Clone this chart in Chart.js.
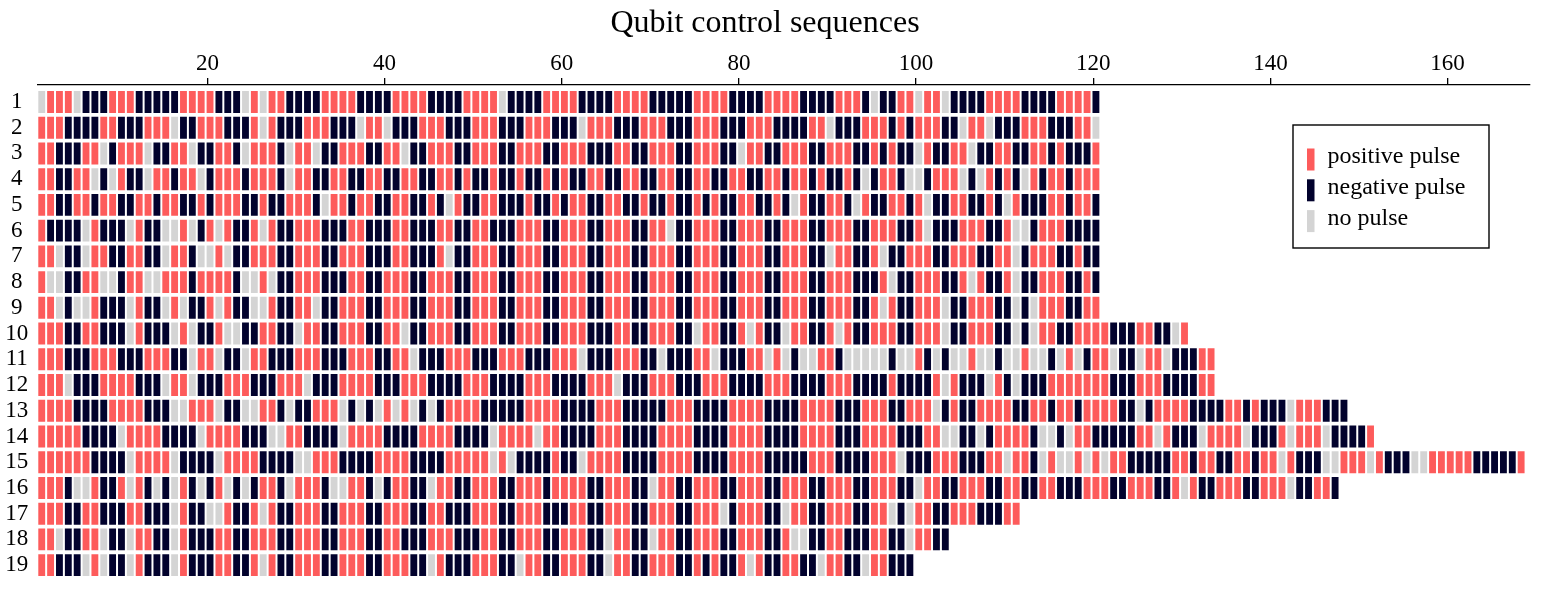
<!DOCTYPE html>
<html>
<head>
<meta charset="utf-8">
<title>Qubit control sequences</title>
<script src="https://cdn.jsdelivr.net/npm/chart.js@4.4.1/dist/chart.umd.min.js"></script>
<style>
  html, body { margin: 0; padding: 0; background: #fff; }
  #wrap { width: 1559px; height: 593px; }
</style>
</head>
<body>
<div id="wrap"><canvas id="pulseChart" width="1559" height="593"></canvas></div>
<script>
// Sequence number shown at the left of each row.
const rowLabels = ['1','2','3','4','5','6','7','8','9','10','11','12','13','14','15','16','17','18','19'];
// Tick labels of the top axis.
const xTickValues = [20, 40, 60, 80, 100, 120, 140, 160];
// Legend entries, in the same order as pulseSigns.
const pulseNames = ['positive pulse', 'negative pulse', 'no pulse'];
const pulseSigns = [1, -1, 0];
const pulseColors = ['#fd5b5b', '#02022d', '#d4d4d4'];

// One string per sequence, one character per time step: '+' positive, '-' negative, '0' none.
const pulseRows = [
  "0+++0---+++-----++++---0+0++----++++----++++----++++0----++" + "++----++++-----++++----++++----" + "+++-0--++0++0" + "----++++----++++-",
  "+++----++---+++0--+++---+0+---+++---0++0---+++---+++---+++-" + "--0+++---+++---+++---+++----++0---+++-+-+++--0++0---+++---++0",
  "++---++0-+++0--++0--++-0+++-0++0--+++--++0--+++--+++--+++--" + "+++---++--+++--+++--0++--+++--+++--+-+--0+--++0--++--++-+---+",
  "++--++0-0+--0++-++0-+++-+++-0++--++--++--++--++-+--+--+--+-" + "+--++--++--++--++--++--++-++-+--+-0-++-00-+++0-0+-+-0+-++-+++",
  "++--++-++--++-++--+-+++--+--+++-0++-++--++--+-0+--++---+--+" + "-++--++--+--+--+-+--++--+-0+--++-0+--++-+0--++--+-0+---++-++-",
  "+----0+---0+--00+0-+0+--+0+--+++---++---++---++--++---+++--" + "+++--+++--++0--+++--+++--+++--+++--+++--+0---+++--+00-+++----",
  "++0--0++--++--0++-00+0--+++--+++--+++---++---+0--+++--+++--" + "+++--+++--+++--+++--+++--+++--0++--+0--+++--+++--++0-+++--+--",
  "+00--++00-++00+++-++++-00+0--+++---++--+++--+++--+++--+++--" + "+++--+++--+++--+++--+++--+++--+++---+0--+++--+0+--+0--+++--+-",
  "++0-00+---0+--0+0--+0+--00+--++0--+++--+++--+++--+++--+++--" + "+++--+++--+++--+++--+++--+++--+++--+0+--+++0--+++--0-0+++--++",
  "+++--++---0+---0+0--+00--++--0++--+++--++0--+++--+++--+++--" + "+++---++--+++--0++--+0+--0++--+0+--+++--+++0--+++--0-0++--+++" + "+---++--0+",
  "+++---+++---+++--0++0--0++---+++---+++--++0---+++---+++---+" + "++0---+++--0---++0---++0+0-00++-00000-00+-0-00+00-00+00-0+0-+" + "+0--0++0---++",
  "+++0---++++---0++0---+++---+++0---++++---+++----+++----+++-" + "---+++0---+++---+++----+++----+++----+----+0+---0+-0---++++++" + "+---+++----++",
  "++++----++++---00+++0--00++-0--+++0-0-0+0+0-0-++++-----++++" + "----+++-----+++----++++----++++---+++--+++0-+--++++--++-++-++" + "++--0-++++----++-+---0+++---",
  "+++++----0++++----0++++---00++----0++++----++++----0++++0++" + "----+++----++++----++++----++++---++++---++00--0-++++-00-0++-" + "----++0+---0++++0---+0+++0----+",
  "++++++----0++++0----0++++----00+++----++++----+++++0+0----+" + "--0++++----++++----++++-----+++----+++0---+++---++0++-0+00+0" + "+0++-----++-++--++-++0+---00+++0+---00+++++-----+",
  "+++-00+--+0+-0-0+-0-+0-0-++-0+++-00++-0-++--0++--+++--+++-+" + "+++--+++--0++--+++--+++--+++--+++--+++--0++--+++--++--++---+" + "++--+++--+0+--+++--+++0--++-",
  "+++--++---++---0+--00+--+0+--+++--+++--+++--++---+++--+++--" + "-++--+++--+++--+++0-+++--0++--+++--++0-0++--+++---++",
  "++0--++0--0++--0+---++--+++--+++--+++--++---+++---++--+++--" + "+++--0++--0++--+++--+++--+00--++---++--0++--",
  "++---0+0--0+---0+---++--+0+--+++--+++--+++--0+---+++--0++--" + "+++--0++--+++--+-+--+0+--++--0++--0++---"
];

const serif = '"Liberation Serif", "DejaVu Serif", serif';
// In the source figure the cells sit slightly right of the integer ticks.
const cellShift = 0.3;

// Collect the cells of one kind as floating bars: step k covers one unit on row r.
function cellsFor(sign) {
  const cells = [];
  pulseRows.forEach((row, r) => {
    [...row].forEach((ch, i) => {
      const v = ch === '+' ? 1 : (ch === '-' ? -1 : 0);
      const k = i + 1;
      if (v === sign) cells.push({ x: [k - 0.5 + cellShift, k + 0.5 + cellShift], y: r + 1 });
    });
  });
  return cells;
}

// Boxed legend drawn inside the plot, top right.
const boxLegend = {
  id: 'boxLegend',
  afterDraw(chart) {
    const ctx = chart.ctx;
    ctx.save();
    ctx.fillStyle = '#fff';
    ctx.fillRect(1293, 125, 196, 123);
    ctx.strokeStyle = '#000';
    ctx.lineWidth = 1.4;
    ctx.strokeRect(1293, 125, 196, 123);
    ctx.font = '24px ' + serif;
    ctx.textBaseline = 'middle';
    ctx.textAlign = 'left';
    chart.data.datasets.forEach((ds, i) => {
      const cy = 159.5 + i * 30.8;
      ctx.fillStyle = ds.backgroundColor;
      ctx.fillRect(1307, cy - 11, 7.5, 22);
      ctx.fillStyle = '#000';
      ctx.fillText(ds.label, 1327.5, cy - 2.5);
    });
    ctx.restore();
  }
};

const ctx = document.getElementById('pulseChart').getContext('2d');
new Chart(ctx, {
  type: 'bar',
  data: {
    datasets: pulseSigns.map((sign, j) => ({
      label: pulseNames[j],
      data: cellsFor(sign),
      backgroundColor: pulseColors[j],
      borderColor: '#ffffff',
      borderWidth: 1,
      borderSkipped: false,
      grouped: false,
      categoryPercentage: 1,
      barPercentage: 0.93
    }))
  },
  options: {
    indexAxis: 'y',
    responsive: false,
    animation: false,
    events: [],
    layout: { padding: { left: 0, right: 29, top: 0, bottom: 15 } },
    scales: {
      x: {
        type: 'linear',
        position: 'top',
        min: 0.5 + cellShift,
        max: 169 + cellShift,
        offset: false,
        afterBuildTicks: axis => { axis.ticks = xTickValues.map(v => ({ value: v })); },
        afterFit: axis => { axis.height = 42.6; axis.paddingLeft = 0; axis.paddingRight = 0; },
        grid: { drawOnChartArea: false, drawTicks: true, tickLength: 7, color: '#000', lineWidth: 1.3, offset: false },
        border: { display: true, color: '#000', width: 1.3 },
        ticks: { color: '#000', padding: 0, autoSkip: false, maxRotation: 0, font: { family: serif, size: 23 } }
      },
      y: {
        type: 'linear',
        min: 0.34,
        max: 19.5,
        reverse: true,
        offset: false,
        afterBuildTicks: axis => { axis.ticks = rowLabels.map((_, i) => ({ value: i + 1 })); },
        afterFit: axis => { axis.width = 37.3; axis.paddingTop = 0; axis.paddingBottom = 0; },
        grid: { display: false, drawTicks: false, offset: false },
        border: { display: false },
        ticks: {
          color: '#000',
          padding: 9,
          crossAlign: 'center',
          autoSkip: false,
          font: { family: serif, size: 23 },
          callback: v => rowLabels[v - 1]
        }
      }
    },
    plugins: {
      legend: { display: false },
      tooltip: { enabled: false },
      title: {
        display: true,
        text: 'Qubit control sequences',
        color: '#000',
        padding: { top: 4, bottom: 0 },
        font: { family: serif, size: 32, weight: 'normal' }
      }
    }
  },
  plugins: [boxLegend]
});
</script>
</body>
</html>
